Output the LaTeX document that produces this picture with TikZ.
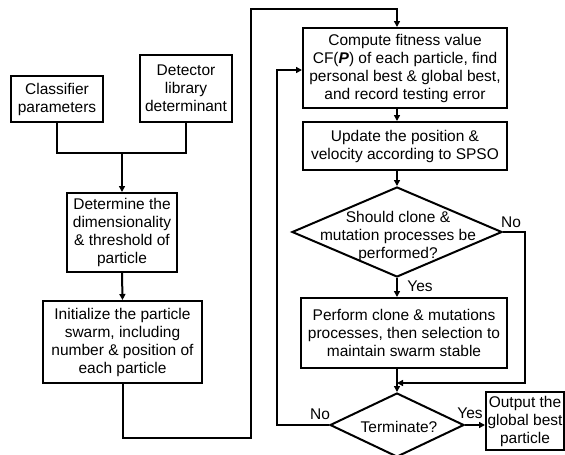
\documentclass[tikz,border=0pt]{standalone}
\usepackage{fontspec}
\setmainfont{Liberation Sans}
\usetikzlibrary{arrows.meta,shapes.geometric}
\begin{document}
\begin{tikzpicture}[x=1pt,y=-1pt,
  every node/.style={font=\fontsize{15.5}{18}\selectfont, align=center},
  box/.style={draw, line width=2pt, rectangle, inner sep=0pt},
  dia/.style={draw, line width=2pt, diamond, inner sep=0pt},
  wire/.style={line width=2pt},
  arr/.style={wire, -{Triangle[length=6pt,width=6pt]}},
  lbl/.style={inner sep=0pt}]
\useasboundingbox (0,0) rectangle (565,455);

% input boxes
\node[box, minimum width=92, minimum height=46] (cls) at (57,99) {Classifier\\parameters};
\node[box, minimum width=92, minimum height=67] (lib) at (186,88.5) {Detector\\library\\determinant};
\node[box, minimum width=110, minimum height=79] (dim) at (122,232.5) {Determine the\\dimensionality\\\& threshold of\\particle};
\node[box, minimum width=159, minimum height=82] (init) at (122.5,342) {Initialize the particle\\swarm, including\\number \& position of\\each particle};

% main loop
\node[box, minimum width=204, minimum height=80] (fit) at (405,68) {Compute fitness value\\CF(\textbf{\textit{P}}) of each particle, find\\personal best \& global best,\\and record testing error};
\node[box, minimum width=204, minimum height=48] (upd) at (405,146) {Update the position \&\\velocity according to SPSO};
\node[dia, minimum width=210, minimum height=90] (q1) at (397,232) {};
\node[lbl] (q1t) at (398,236) {Should clone \&\\mutation processes be\\performed?};
\node[box, minimum width=206, minimum height=70] (mut) at (404,333) {Perform clone \& mutations\\processes, then selection to\\maintain swarm stable};
\node[dia, minimum width=134, minimum height=64] (term) at (397,425) {};
\node[lbl] (termt) at (399,427) {Terminate?};
\node[box, minimum width=78, minimum height=58] (out) at (525,421) {Output the\\global best\\particle};

% branch labels
\node[lbl] (no1) at (511,222) {No};
\node[lbl] (yes1) at (420,286) {Yes};
\node[lbl] (no2) at (320,414) {No};
\node[lbl] (yes2) at (470,413) {Yes};

% junction and routing points
\coordinate (join) at (122,153);
\coordinate (loopA) at (251,438);
\coordinate (loopB) at (251,9);
\coordinate (topx) at (397,9);
\coordinate (noA) at (525,232);
\coordinate (merge) at (397,383);
\coordinate (backA) at (277,425);
\coordinate (backB) at (277,70);

% connectors
\draw[wire] (cls.south) |- (lib.south |- join) -- (lib.south);
\draw[arr] (join) -- (dim.north);
\draw[arr] (dim.south) -- (init.north);
\draw[arr] (init.south) |- (loopA) -- (loopB) -- (topx) -- (topx |- fit.north);
\draw[arr] (fit.south -| q1.north) -- (upd.north -| q1.north);
\draw[arr] (upd.south -| q1.north) -- (q1.north);
\draw[arr] (q1.south) -- (mut.north -| q1.south);
\draw[arr] (mut.south -| term.north) -- (term.north);
\draw[arr] (q1.east) -- (noA) |- (merge);
\draw[arr] (term.west) -- (backA) -- (backB) -- (fit.west |- backB);
\draw[arr] (term.east) -- (out.west |- term.east);
\end{tikzpicture}
\end{document}
